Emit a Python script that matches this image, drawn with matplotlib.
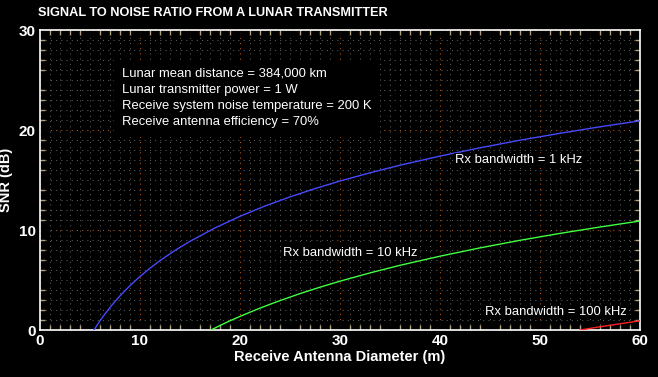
import matplotlib
matplotlib.use("Agg")
import matplotlib.pyplot as plt
from matplotlib.ticker import MultipleLocator, FuncFormatter

# curves (diameter in m, SNR in dB)
d_1khz = [5.4, 5.7, 6, 6.5, 7, 7.5, 8, 9, 10, 11, 12, 13.5, 15, 17.5, 20, 22.5, 25,
          27.5, 30, 33, 36, 40, 44, 48, 52, 56, 60]
snr_1khz = [0.0, 0.47, 0.92, 1.61, 2.25, 2.85, 3.41, 4.44, 5.35, 6.18, 6.94, 7.96, 8.87,
            10.21, 11.37, 12.40, 13.31, 14.14, 14.90, 15.72, 16.48, 17.39, 18.22, 18.98,
            19.67, 20.32, 20.92]
d_10khz = [17.1, 18, 19, 20, 22, 24, 26, 28, 30, 33, 36, 40, 44, 48, 52, 56, 60]
snr_10khz = [0.0, 0.45, 0.92, 1.36, 2.19, 2.94, 3.64, 4.28, 4.88, 5.71, 6.47, 7.38,
             8.21, 8.97, 9.66, 10.30, 10.90]
d_100khz = [54, 56, 58, 60]
snr_100khz = [0.0, 0.32, 0.62, 0.92]

info_lines = ["Lunar mean distance = 384,000 km",
              "Lunar transmitter power = 1 W",
              "Receive system noise temperature = 200 K",
              "Receive antenna efficiency = 70%"]

NARROW = ['Liberation Sans Narrow', 'Liberation Sans', 'DejaVu Sans']
PLAIN = ['Liberation Sans', 'DejaVu Sans']

fig = plt.figure(figsize=(6.58, 3.77), dpi=100, facecolor='black')
ax = fig.add_axes([40 / 658, 47 / 377, 600 / 658, 300 / 377], facecolor='black')

ax.plot(d_1khz, snr_1khz, color='#4848ff', lw=1.0, zorder=3)
ax.plot(d_10khz, snr_10khz, color='#40ff40', lw=1.0, zorder=3)
ax.plot(d_100khz, snr_100khz, color='#ff2020', lw=1.0, zorder=3)

ax.set_xlim(0, 60)
ax.set_ylim(0, 30)

for axis in (ax.xaxis, ax.yaxis):
    axis.set_major_locator(MultipleLocator(5))
    axis.set_minor_locator(MultipleLocator(1))
    axis.set_major_formatter(FuncFormatter(lambda v, p: "%d" % v if round(v) % 10 == 0 else ""))

ax.tick_params(which='both', direction='in', top=True, right=True)
ax.tick_params(which='major', length=6, width=1.2, labelcolor='white', labelsize=11, pad=3)
ax.tick_params(which='minor', length=3.5, width=1, color='#b0a080')
ax.grid(which='minor', color='#5c5c5c', linestyle=(0, (1, 4)), lw=0.75)
ax.grid(which='major', color='#5c5c5c', linestyle=(0, (1, 4)), lw=0.75)
ax.set_axisbelow(True)

for axis in (ax.xaxis, ax.yaxis):
    locs = axis.get_majorticklocs()
    for loc, tick in zip(locs, axis.get_major_ticks()):
        if round(loc) % 10 == 0:
            c = '#ffff00'
            tick.gridline.set_color('#c05a10')
        else:
            c = 'white'
        tick.tick1line.set_color(c)
        tick.tick2line.set_color(c)
    for lbl in axis.get_ticklabels():
        lbl.set_family(NARROW)
        lbl.set_fontweight('bold')

for s in ax.spines.values():
    s.set_color('white')
    s.set_linewidth(1.2)

ax.set_xlabel("Receive Antenna Diameter (m)", color='white', fontsize=10.5,
              fontweight='bold', family=NARROW, labelpad=1)
ax.set_ylabel("SNR (dB)", color='white', fontsize=10.5, fontweight='bold',
              family=NARROW, labelpad=4)

fig.text(38 / 658, 1 - 13 / 377, "SIGNAL TO NOISE RATIO FROM A LUNAR TRANSMITTER",
         color='white', fontsize=9.2, fontweight='bold', family=PLAIN, va='center')

ax.text(8.2, 26.2, "\n".join(info_lines), color='white', fontsize=9.4, family=PLAIN,
        va='top', ha='left', linespacing=1.45, zorder=4,
        bbox=dict(facecolor='black', edgecolor='none', pad=6))

lbl_box = dict(facecolor='black', edgecolor='none', pad=1)
ax.text(41.5, 17.0, "Rx bandwidth = 1 kHz", color='white', fontsize=9.4, family=PLAIN,
        va='center', ha='left', zorder=4, bbox=lbl_box)
ax.text(24.3, 7.7, "Rx bandwidth = 10 kHz", color='white', fontsize=9.4, family=PLAIN,
        va='center', ha='left', zorder=4, bbox=lbl_box)
ax.text(44.5, 1.8, "Rx bandwidth = 100 kHz", color='white', fontsize=9.4, family=PLAIN,
        va='center', ha='left', zorder=4, bbox=lbl_box)

plt.savefig("out.png", dpi=100, facecolor='black')
